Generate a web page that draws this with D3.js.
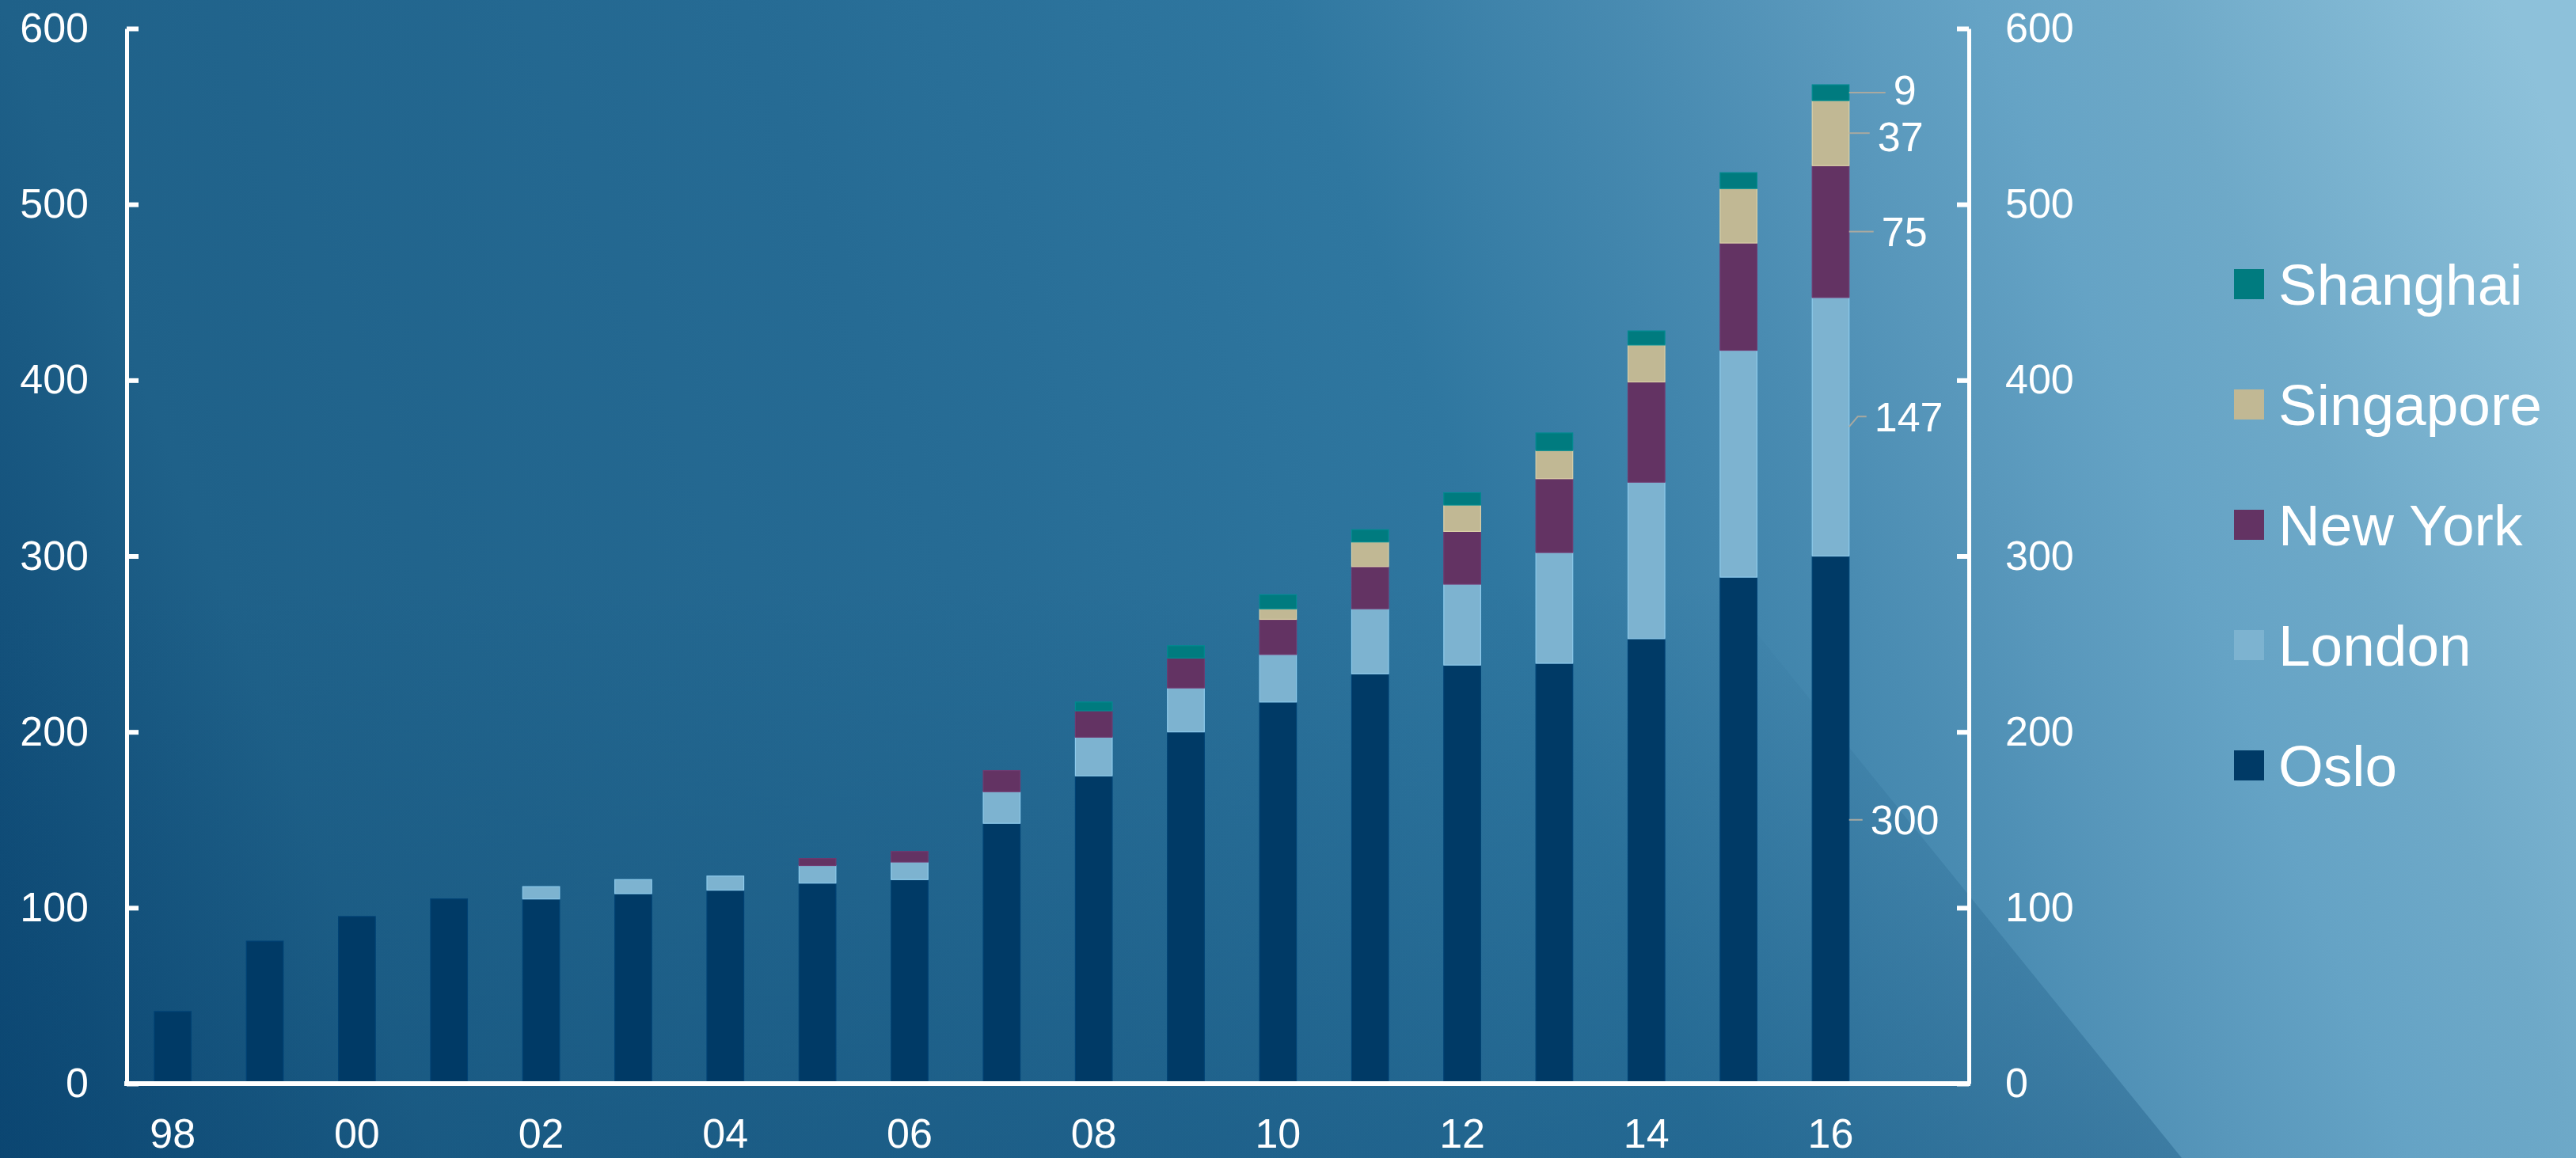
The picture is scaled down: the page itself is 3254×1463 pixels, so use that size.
<!DOCTYPE html>
<html>
<head>
<meta charset="utf-8">
<script src="https://cdn.jsdelivr.net/npm/d3@7"></script>
<style>
  html, body { margin: 0; padding: 0; background: #0c446c; }
  svg { display: block; }
  text { font-family: "Liberation Sans", Arial, sans-serif; fill: #ffffff; }
</style>
</head>
<body>
<svg id="chart" width="3254" height="1463"></svg>
<script>
// ---------- data ----------
const years = ["98","99","00","01","02","03","04","05","06","07","08","09","10","11","12","13","14","15","16"];
const seriesNames = ["Oslo","London","New York","Singapore","Shanghai"];
const oslo      = [41, 81, 95, 105, 105, 108, 110, 114, 116, 148, 175, 200, 217, 233, 238, 239, 253, 288, 300];
const london    = [0, 0, 0, 0, 7, 8, 8, 10, 10, 18, 22, 25, 27, 37, 46, 63, 89, 129, 147];
const newYork   = [0, 0, 0, 0, 0, 0, 0, 4, 6, 12, 15, 17, 20, 24, 30, 42, 57, 61, 75];
const singapore = [0, 0, 0, 0, 0, 0, 0, 0, 0, 0, 0, 0, 6, 14, 15, 16, 21, 31, 37];
const shanghai  = [0, 0, 0, 0, 0, 0, 0, 0, 0, 0, 5, 7, 8, 7, 7, 10, 8, 9, 9];
const yTicks = [0, 100, 200, 300, 400, 500, 600];
const xTickLabels = ["98","00","02","04","06","08","10","12","14","16"];
const colors = ["#003a66", "#7db3d0", "#633363", "#c1b894", "#007b7f"];
const labelLeader = [17, 22, 31, 26, 46]; // leader lengths for the 2016 value labels
const labelShift  = [0, 0, 0, 4, -4];     // small vertical nudges for the 2016 value labels

// ---------- setup ----------
const W = 3254, H = 1463;
const svg = d3.select("#chart");
const defs = svg.append("defs");

const bg = defs.append("linearGradient").attr("id", "bg")
  .attr("gradientUnits", "userSpaceOnUse")
  .attr("x1", 0).attr("y1", H).attr("x2", W).attr("y2", 240);
[[0, "#0a4470"], [0.148, "#1f6189"], [0.4, "#266b94"], [0.584, "#2f77a0"],
 [0.707, "#4a8cb2"], [0.76, "#5897bb"], [0.82, "#65a3c5"], [0.88, "#6ea9c8"], [1, "#8dc1da"]]
 .forEach(([o, c]) => bg.append("stop").attr("offset", o).attr("stop-color", c));

const ov = defs.append("linearGradient").attr("id", "ov")
  .attr("gradientUnits", "userSpaceOnUse")
  .attr("x1", 0).attr("y1", 0).attr("x2", 0).attr("y2", H);
ov.append("stop").attr("offset", 0.5).attr("stop-color", "#0d4a75").attr("stop-opacity", 0);
ov.append("stop").attr("offset", 1).attr("stop-color", "#0d4a75").attr("stop-opacity", 0.32);

svg.append("rect").attr("width", W).attr("height", H).attr("fill", "url(#bg)");
svg.append("path")
  .attr("d", d3.line()([[0, 0], [1571, 0], [2756, H], [0, H]]) + "Z")
  .attr("fill", "url(#ov)");

// ---------- scales ----------
const pLeft = 160, pRight = 2487, pTop = 36, pBottom = 1369;
const step = (pRight - pLeft) / (years.length + 1);
const x = d3.scaleBand().domain(years)
  .range([pLeft, pLeft + step * years.length])
  .paddingInner(0.6).paddingOuter(0.3);
const y = d3.scaleLinear().domain([0, 600]).range([pBottom, pTop]);

const table = years.map((yr, i) => ({
  year: yr, "Oslo": oslo[i], "London": london[i], "New York": newYork[i],
  "Singapore": singapore[i], "Shanghai": shanghai[i]
}));
const stacked = d3.stack().keys(seriesNames)(table);
const color = d3.scaleOrdinal().domain(seriesNames).range(colors);

// ---------- bars ----------
svg.append("g").selectAll("g").data(stacked).join("g")
  .attr("fill", d => color(d.key))
  .attr("stroke", d => d3.color(color(d.key)).brighter(0.35))
  .attr("stroke-width", 1.2)
  .selectAll("rect").data(d => d.filter(s => s[1] - s[0] > 0)).join("rect")
  .attr("x", d => x(d.data.year))
  .attr("width", x.bandwidth())
  .attr("y", d => y(d[1]))
  .attr("height", d => y(d[0]) - y(d[1]));

// ---------- axes ----------
const fs = 52;
const yl = svg.append("g").attr("transform", `translate(${pLeft},0)`)
  .call(d3.axisLeft(y).tickValues(yTicks).tickSizeInner(-15).tickSizeOuter(0).tickPadding(48));
const yr = svg.append("g").attr("transform", `translate(${pRight},0)`)
  .call(d3.axisRight(y).tickValues(yTicks).tickSizeInner(-15).tickSizeOuter(0).tickPadding(46));
const xa = svg.append("g").attr("transform", `translate(0,${pBottom})`)
  .call(d3.axisBottom(x).tickValues(xTickLabels).tickSize(0).tickPadding(44));

[yl, yr].forEach(g => {
  g.select(".domain").attr("stroke", "#fff").attr("stroke-width", 5);
  g.selectAll(".tick line").attr("stroke", "#fff").attr("stroke-width", 6);
  g.selectAll("text").attr("font-size", fs).attr("fill", "#fff")
    .attr("font-family", '"Liberation Sans", Arial, sans-serif');
});
xa.select(".domain").remove();
xa.selectAll("text").attr("font-size", fs).attr("fill", "#fff")
  .attr("font-family", '"Liberation Sans", Arial, sans-serif');
svg.append("line").attr("x1", pLeft - 3).attr("x2", pRight + 2)
  .attr("y1", pBottom).attr("y2", pBottom)
  .attr("stroke", "#fff").attr("stroke-width", 6);

// ---------- value labels on last bar ----------
const lastIdx = years.length - 1;
const barRight = x(years[lastIdx]) + x.bandwidth();
const labG = svg.append("g");
stacked.forEach((s, k) => {
  const seg = s[lastIdx];
  const val = seg[1] - seg[0];
  const cy = y((seg[0] + seg[1]) / 2);
  const len = labelLeader[k];
  let pts;
  if (s.key === "London") {
    pts = [[barRight, cy], [barRight + 11, cy - 13], [barRight + len, cy - 13]];
  } else {
    pts = [[barRight, cy], [barRight + len, cy]];
  }
  labG.append("path").attr("d", d3.line()(pts))
    .attr("fill", "none").attr("stroke", "#a9a9a0").attr("stroke-width", 2);
  const ty = pts[pts.length - 1][1] + labelShift[k];
  labG.append("text")
    .attr("x", barRight + len + 10)
    .attr("y", ty + fs * 0.36)
    .attr("font-size", fs)
    .text(val);
});

// ---------- legend ----------
const legendOrder = seriesNames.slice().reverse();
const lg = svg.append("g").attr("transform", "translate(2822,359)");
legendOrder.forEach((name, i) => {
  const g = lg.append("g").attr("transform", `translate(0,${i * 152})`);
  g.append("rect").attr("x", 0).attr("y", -19).attr("width", 38).attr("height", 38)
    .attr("fill", color(name));
  g.append("text").attr("x", 56).attr("y", 26).attr("font-size", 73).text(name);
});
</script>
</body>
</html>
